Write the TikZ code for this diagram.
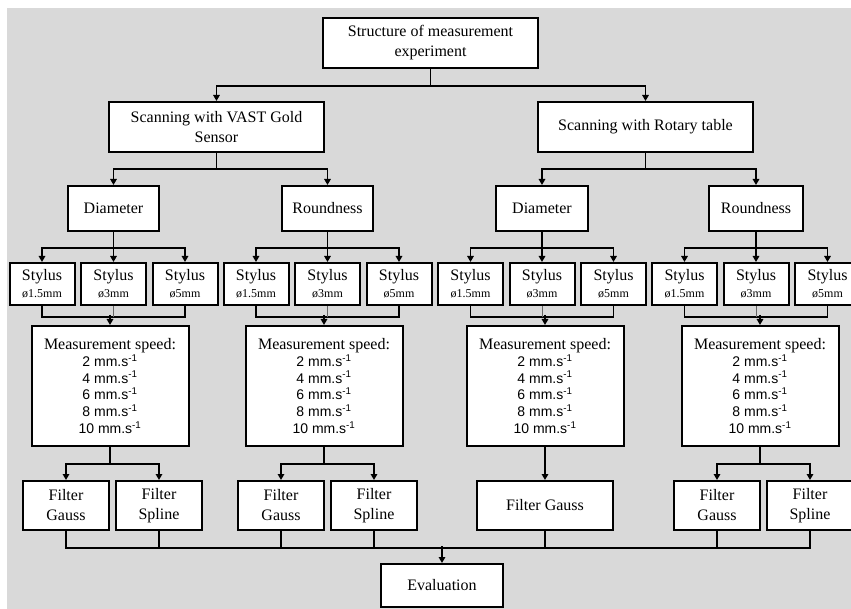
\documentclass[tikz,border=0pt]{standalone}
\usepackage{fontspec}
\setmainfont{Liberation Serif}
\setsansfont{Liberation Sans}
\usetikzlibrary{arrows.meta}
\definecolor{bggray}{RGB}{217,217,217}
\newcommand{\speedline}[1]{{\sffamily\fontsize{14}{16.7}\selectfont #1 mm.s\textsuperscript{-1}}}
\newcommand{\speedtext}{Measurement speed:\\\speedline{2}\\\speedline{4}\\\speedline{6}\\\speedline{8}\\\speedline{10}}
\newcommand{\stylustext}[1]{Stylus\\{\fontsize{12}{14}\selectfont ø#1mm}}

\begin{document}
\begin{tikzpicture}[
    x=1pt, y=-1pt,
    box/.style={draw, line width=2pt, fill=white, inner sep=2pt, align=center, font=\fontsize{16}{20}\selectfont},
    stylusbox/.style={box, minimum width=65pt, minimum height=42pt, font=\fontsize{16}{17}\selectfont},
    speedbox/.style={box, minimum width=157pt, minimum height=120pt, font=\fontsize{16}{16.7}\selectfont},
    filterbox/.style={box, minimum width=86pt, minimum height=49pt},
    arr/.style={-{Triangle[length=6pt,width=6.5pt]}, line width=1.8pt},
    link/.style={line width=1.8pt},
    thinlink/.style={line width=0.6pt, black!60}
]
    \useasboundingbox (0,0) rectangle (851,609);
    \clip (0,0) rectangle (851,609);
    \fill[bggray] (7,8) rectangle (851,609);

    \node[box, minimum width=215pt, minimum height=50pt] (top) at (430.5,43) {Structure of measurement\\experiment};
    \node[box, minimum width=215pt, minimum height=50pt] (scanA) at (216.5,127) {Scanning with VAST Gold\\Sensor};
    \node[box, minimum width=215pt, minimum height=50pt] (scanB) at (645.5,127) {Scanning with Rotary table};

    \node[box, minimum width=91pt, minimum height=45pt] (diamA) at (113.5,208.5) {Diameter};
    \node[box, minimum width=91pt, minimum height=45pt] (roundA) at (327.5,208.5) {Roundness};
    \node[box, minimum width=92pt, minimum height=45pt] (diamB) at (542,208.5) {Diameter};
    \node[box, minimum width=94pt, minimum height=45pt] (roundB) at (756,208.5) {Roundness};

    \node[stylusbox] (sA1) at (42,284) {\stylustext{1.5}};
    \node[stylusbox] (sA2) at (113.5,284) {\stylustext{3}};
    \node[stylusbox] (sA3) at (185,284) {\stylustext{5}};
    \node[stylusbox] (sB1) at (256,284) {\stylustext{1.5}};
    \node[stylusbox] (sB2) at (327.5,284) {\stylustext{3}};
    \node[stylusbox] (sB3) at (399,284) {\stylustext{5}};
    \node[stylusbox] (sC1) at (470.5,284) {\stylustext{1.5}};
    \node[stylusbox] (sC2) at (542,284) {\stylustext{3}};
    \node[stylusbox] (sC3) at (613.5,284) {\stylustext{5}};
    \node[stylusbox] (sD1) at (684.5,284) {\stylustext{1.5}};
    \node[stylusbox] (sD2) at (756,284) {\stylustext{3}};
    \node[stylusbox] (sD3) at (827.5,284) {\stylustext{5}};

    \node[speedbox] (spA) at (110,386) {\speedtext};
    \node[speedbox] (spB) at (324,386) {\speedtext};
    \node[speedbox] (spC) at (545,386) {\speedtext};
    \node[speedbox] (spD) at (760,386) {\speedtext};

    \node[filterbox] (fgA) at (66,505.5) {Filter\\Gauss};
    \node[filterbox] (fsA) at (159,505.5) {Filter\\Spline};
    \node[filterbox] (fgB) at (281,505.5) {Filter\\Gauss};
    \node[filterbox] (fsB) at (374,505.5) {Filter\\Spline};
    \node[filterbox, minimum width=136pt] (fgC) at (545,505.5) {Filter Gauss};
    \node[filterbox] (fgD) at (717,505.5) {Filter\\Gauss};
    \node[filterbox] (fsD) at (810,505.5) {Filter\\Spline};

    \node[box, minimum width=122pt, minimum height=43pt] (eval) at (442,585.5) {Evaluation};

    % top levels
    \draw[arr] (top.south) -- ++(0,17) -| (scanA.north);
    \draw[arr] (top.south) -- ++(0,17) -| (scanB.north);
    \draw[arr] (scanA.south) -- ++(0,16) -| (diamA.north);
    \draw[arr] (scanA.south) -- ++(0,16) -| (roundA.north);
    \draw[arr] (scanB.south) -- ++(0,16) -| (diamB.north);
    \draw[arr] (scanB.south) -- ++(0,16) -| (roundB.north);

    % styluses
    \draw[arr] (diamA.south) -- ++(0,16) -| (sA1.north);
    \draw[arr] (diamA.south) -- (sA2.north);
    \draw[arr] (diamA.south) -- ++(0,16) -| (sA3.north);
    \draw[arr] (roundA.south) -- ++(0,16) -| (sB1.north);
    \draw[arr] (roundA.south) -- (sB2.north);
    \draw[arr] (roundA.south) -- ++(0,16) -| (sB3.north);
    \draw[arr] (diamB.south) -- ++(0,16) -| (sC1.north);
    \draw[arr] (diamB.south) -- (sC2.north);
    \draw[arr] (diamB.south) -- ++(0,16) -| (sC3.north);
    \draw[arr] (roundB.south) -- ++(0,16) -| (sD1.north);
    \draw[arr] (roundB.south) -- (sD2.north);
    \draw[arr] (roundB.south) -- ++(0,16) -| (sD3.north);

    % styluses to speeds
    \draw[link] (sA1.south) -- ++(0,11) -| (sA3.south);
    \draw[thinlink] (sA2.south) -- ++(0,11);
    \draw[arr] (spA.north) ++(0,-10) -- (spA.north);
    \draw[link] (sB1.south) -- ++(0,11) -| (sB3.south);
    \draw[thinlink] (sB2.south) -- ++(0,11);
    \draw[arr] (spB.north) ++(0,-10) -- (spB.north);
    \draw[link] (sC1.south) -- ++(0,11) -| (sC3.south);
    \draw[thinlink] (sC2.south) -- ++(0,11);
    \draw[arr] (spC.north) ++(0,-10) -- (spC.north);
    \draw[link] (sD1.south) -- ++(0,11) -| (sD3.south);
    \draw[thinlink] (sD2.south) -- ++(0,11);
    \draw[arr] (spD.north) ++(0,-10) -- (spD.north);

    % filters
    \draw[arr] (spA.south) -- ++(0,17) -| (fgA.north);
    \draw[arr] (spA.south) -- ++(0,17) -| (fsA.north);
    \draw[arr] (spB.south) -- ++(0,17) -| (fgB.north);
    \draw[arr] (spB.south) -- ++(0,17) -| (fsB.north);
    \draw[arr] (spC.south) -- (fgC.north);
    \draw[arr] (spD.south) -- ++(0,17) -| (fgD.north);
    \draw[arr] (spD.south) -- ++(0,17) -| (fsD.north);

    % evaluation
    \draw[link] (fgA.south) -- ++(0,17) -| (fsD.south);
    \draw[link] (fsA.south) -- ++(0,17);
    \draw[link] (fgB.south) -- ++(0,17);
    \draw[link] (fsB.south) -- ++(0,17);
    \draw[link] (fgC.south) -- ++(0,17);
    \draw[link] (fgD.south) -- ++(0,17);
    \draw[arr] (eval.north) ++(0,-17) -- (eval.north);
\end{tikzpicture}
\end{document}
